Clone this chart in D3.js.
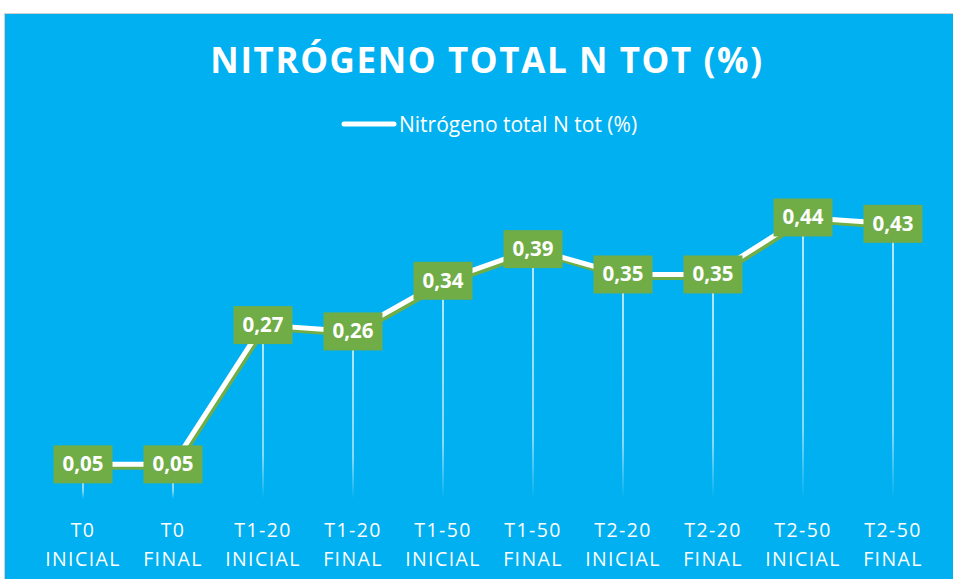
<!DOCTYPE html>
<html><head><meta charset="utf-8">
<script src="https://cdn.jsdelivr.net/npm/d3@7"></script>
<style>body{margin:0;background:#fff;}svg{display:block;}</style>
</head><body>
<svg id="c" width="953" height="579"></svg>
<script>
const categoriesTop = ["T0","T0","T1-20","T1-20","T1-50","T1-50","T2-20","T2-20","T2-50","T2-50"];
const categoriesBottom = ["INICIAL","FINAL","INICIAL","FINAL","INICIAL","FINAL","INICIAL","FINAL","INICIAL","FINAL"];
const values = [0.05,0.05,0.27,0.26,0.34,0.39,0.35,0.35,0.44,0.43];
const valueLabels = ["0,05","0,05","0,27","0,26","0,34","0,39","0,35","0,35","0,44","0,43"];
const title = "NITRÓGENO TOTAL N TOT (%)";
const seriesName = "Nitrógeno total N tot (%)";

const svg = d3.select("#c");
const keys = d3.range(values.length);
const x = d3.scaleBand().domain(keys).range([38,938]);
const y = d3.scaleLinear().domain([0,0.5]).range([496,179.5]);
const cx = i => x(i) + x.bandwidth()/2;

svg.append("rect").attr("x",4.5).attr("y",13.5).attr("width",960).attr("height",580)
  .attr("fill","#00B0F0").attr("stroke","#d0d0d0").attr("stroke-width",1);

const defs = svg.append("defs");
const g = defs.append("linearGradient").attr("id","drop").attr("x1",0).attr("y1",0).attr("x2",0).attr("y2",1);
g.append("stop").attr("offset","0%").attr("stop-color","#ffffff").attr("stop-opacity",0.95);
g.append("stop").attr("offset","75%").attr("stop-color","#ffffff").attr("stop-opacity",0.7);
g.append("stop").attr("offset","100%").attr("stop-color","#ffffff").attr("stop-opacity",0);

svg.append("text").attr("x",487).attr("y",73).attr("text-anchor","middle")
  .attr("font-family","'Open Sans'").attr("font-weight",700).attr("font-size",35)
  .attr("letter-spacing",1.6).attr("fill","#fff").text(title);

svg.append("line").attr("x1",344).attr("x2",394).attr("y1",124).attr("y2",124)
  .attr("stroke","#fff").attr("stroke-width",5).attr("stroke-linecap","round");
svg.append("text").attr("x",399).attr("y",132).attr("font-family","'Open Sans'")
  .attr("font-size",21).attr("fill","#fff").text(seriesName);

// drop lines
svg.selectAll("rect.drop").data(keys).join("rect").attr("class","drop")
  .attr("x",i=>cx(i)-0.75).attr("width",1.5)
  .attr("y",i=>y(values[i])).attr("height",i=>y(0)+3-y(values[i]))
  .attr("fill","url(#drop)");

const line = d3.line().x(i=>cx(i)).y(i=>y(values[i]));
svg.append("path").datum(keys).attr("d",line).attr("fill","none")
  .attr("stroke","#70AD47").attr("stroke-width",5).attr("transform","translate(2,3)");
svg.append("path").datum(keys).attr("d",line).attr("fill","none")
  .attr("stroke","#fff").attr("stroke-width",5);

const lab = svg.selectAll("g.lab").data(keys).join("g").attr("class","lab")
  .attr("transform",i=>`translate(${cx(i)},${y(values[i])})`);
lab.append("rect").attr("x",-29.5).attr("y",-19).attr("width",59).attr("height",38).attr("fill","#70AD47");
lab.append("text").attr("text-anchor","middle").attr("y",7).attr("font-family","'Open Sans'")
  .attr("font-weight",700).attr("font-size",20.5).attr("fill","#fff").text(i=>valueLabels[i]);

const ax = svg.selectAll("g.ax").data(keys).join("g").attr("class","ax")
  .attr("transform",i=>`translate(${cx(i)},0)`);
ax.append("text").attr("y",537).attr("text-anchor","middle").attr("font-family","'Open Sans'")
  .attr("font-size",19.5).attr("letter-spacing",1.4).attr("fill","#fff").text(i=>categoriesTop[i]);
ax.append("text").attr("y",566).attr("text-anchor","middle").attr("font-family","'Open Sans'")
  .attr("font-size",19.5).attr("letter-spacing",1.4).attr("fill","#fff").text(i=>categoriesBottom[i]);
</script>
</body></html>
